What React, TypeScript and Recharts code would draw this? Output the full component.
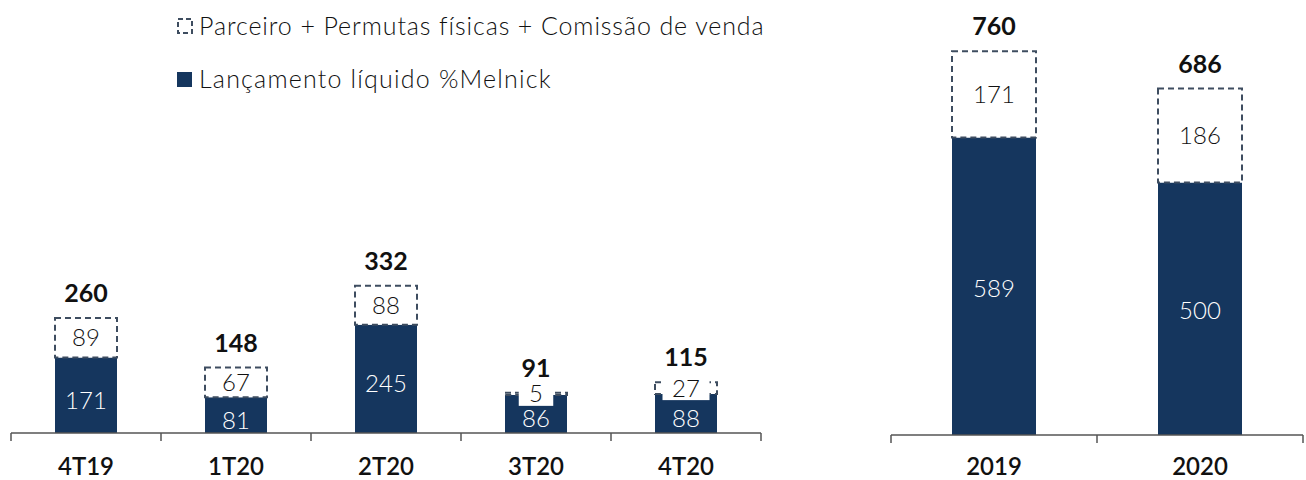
import React from 'react';
import { BarChart, Bar, XAxis, YAxis, LabelList } from 'recharts';

// --- data ---
const quarters = ['4T19', '1T20', '2T20', '3T20', '4T20'];
const quarterNet = [171, 81, 245, 86, 88];
const quarterPartner = [89, 67, 88, 5, 27];
const quarterTotal = [260, 148, 332, 91, 115];

const years = ['2019', '2020'];
const yearNet = [589, 500];
const yearPartner = [171, 186];
const yearTotal = [760, 686];

const legendLabels = ['Parceiro + Permutas físicas + Comissão de venda', 'Lançamento líquido %Melnick'];

const NAVY = '#15365e';
const DASH = '#3e4d60';
const FONT = 'Lato, "Open Sans", sans-serif';

const quarterData = quarters.map((q, i) => ({
  name: q,
  net: quarterNet[i],
  partner: quarterPartner[i],
  total: quarterTotal[i],
}));

const yearData = years.map((y, i) => ({
  name: y,
  net: yearNet[i],
  partner: yearPartner[i],
  total: yearTotal[i],
}));

// category tick with boundary tick marks
const makeTick = (halfBand: number, count: number, labelDy: number) => (props: any) => {
  const { x, y, payload, index } = props;
  return (
    <g>
      <line x1={x - halfBand} y1={y} x2={x - halfBand} y2={y + 8} stroke="#555" strokeWidth={1.5} />
      {index === count - 1 && (
        <line x1={x + halfBand} y1={y} x2={x + halfBand} y2={y + 8} stroke="#555" strokeWidth={1.5} />
      )}
      <text
        x={x}
        y={y + labelDy}
        textAnchor="middle"
        dominantBaseline="central"
        fontFamily={FONT}
        fontSize={24}
        fontWeight={600}
        fill="#111"
      >
        {payload.value}
      </text>
    </g>
  );
};

const makeNetLabel = (dy: number) => (props: any) => {
  const { x, y, width, height, value } = props;
  return (
    <text
      x={x + width / 2}
      y={y + height / 2 + dy}
      textAnchor="middle"
      dominantBaseline="central"
      fontFamily={FONT}
      fontSize={24}
      fontWeight={300}
      fill="#fff"
    >
      {value}
    </text>
  );
};

// partner-segment value with white background box
const PartnerLabel = (props: any) => {
  const { x, y, width, height, value } = props;
  const cx = x + width / 2;
  const cy = y + height / 2;
  const w = String(value).length * 12.5 + 22;
  return (
    <g>
      <rect x={cx - w / 2} y={cy - 12} width={w} height={24} fill="#fff" />
      <text
        x={cx}
        y={cy - 1}
        textAnchor="middle"
        dominantBaseline="central"
        fontFamily={FONT}
        fontSize={24}
        fontWeight={300}
        fill="#111"
      >
        {value}
      </text>
    </g>
  );
};

const TotalLabel = (props: any) => {
  const { x, y, width, value } = props;
  return (
    <text
      x={x + width / 2}
      y={y - 26}
      textAnchor="middle"
      dominantBaseline="central"
      fontFamily={FONT}
      fontSize={25}
      fontWeight={700}
      fill="#111"
    >
      {value}
    </text>
  );
};

const legendText: React.CSSProperties = {
  position: 'absolute',
  left: 199,
  fontFamily: FONT,
  fontSize: 25,
  fontWeight: 300,
  letterSpacing: 0.9,
  lineHeight: '30px',
  color: '#111',
  whiteSpace: 'nowrap',
};

function ChartLegend() {
  return (
    <>
      <svg style={{ position: 'absolute', left: 177, top: 18 }} width={16} height={16}>
        <rect x={1} y={1} width={14} height={14} fill="#fff" stroke={DASH} strokeWidth={2} strokeDasharray="5 3" />
      </svg>
      <div style={{ ...legendText, top: 10 }}>{legendLabels[0]}</div>
      <svg style={{ position: 'absolute', left: 177, top: 72 }} width={16} height={16}>
        <rect x={0} y={0} width={15} height={15} fill={NAVY} />
      </svg>
      <div style={{ ...legendText, top: 63, letterSpacing: 1.2 }}>{legendLabels[1]}</div>
    </>
  );
}

function StackedChart({ data, width, barSize, margin, domain, halfBand, labelDy, netDy }: any) {
  const NetLabel = makeNetLabel(netDy);
  return (
    <BarChart width={width} height={480} data={data} margin={margin} barCategoryGap={0}>
      <XAxis
        dataKey="name"
        axisLine={{ stroke: '#555', strokeWidth: 1.5 }}
        tickLine={false}
        tickSize={0}
        tickMargin={0}
        height={40}
        interval={0}
        tick={makeTick(halfBand, data.length, labelDy)}
      />
      <YAxis hide domain={domain} />
      <Bar dataKey="net" stackId="a" fill={NAVY} barSize={barSize} isAnimationActive={false}>
        <LabelList dataKey="net" content={<NetLabel />} />
      </Bar>
      <Bar
        dataKey="partner"
        stackId="a"
        fill="#fff"
        stroke={DASH}
        strokeWidth={2}
        strokeDasharray="6 4"
        barSize={barSize}
        isAnimationActive={false}
      >
        <LabelList dataKey="partner" content={<PartnerLabel />} />
        <LabelList dataKey="total" content={<TotalLabel />} />
      </Bar>
    </BarChart>
  );
}

export default function App() {
  return (
    <div style={{ position: 'absolute', left: 0, top: 0, width: 1306, height: 480, background: '#fff' }}>
      <div style={{ position: 'absolute', left: 0, top: 0 }}>
        <StackedChart
          data={quarterData}
          width={780}
          barSize={62}
          margin={{ top: 35, right: 19, left: 11, bottom: 7 }}
          domain={[0, 900]}
          halfBand={75}
          labelDy={32}
          netDy={4}
        />
      </div>
      <div style={{ position: 'absolute', left: 880, top: 0 }}>
        <StackedChart
          data={yearData}
          width={426}
          barSize={84}
          margin={{ top: 31, right: 3, left: 11, bottom: 5 }}
          domain={[0, 800]}
          halfBand={103}
          labelDy={30}
          netDy={1}
        />
      </div>
      <ChartLegend />
    </div>
  );
}
